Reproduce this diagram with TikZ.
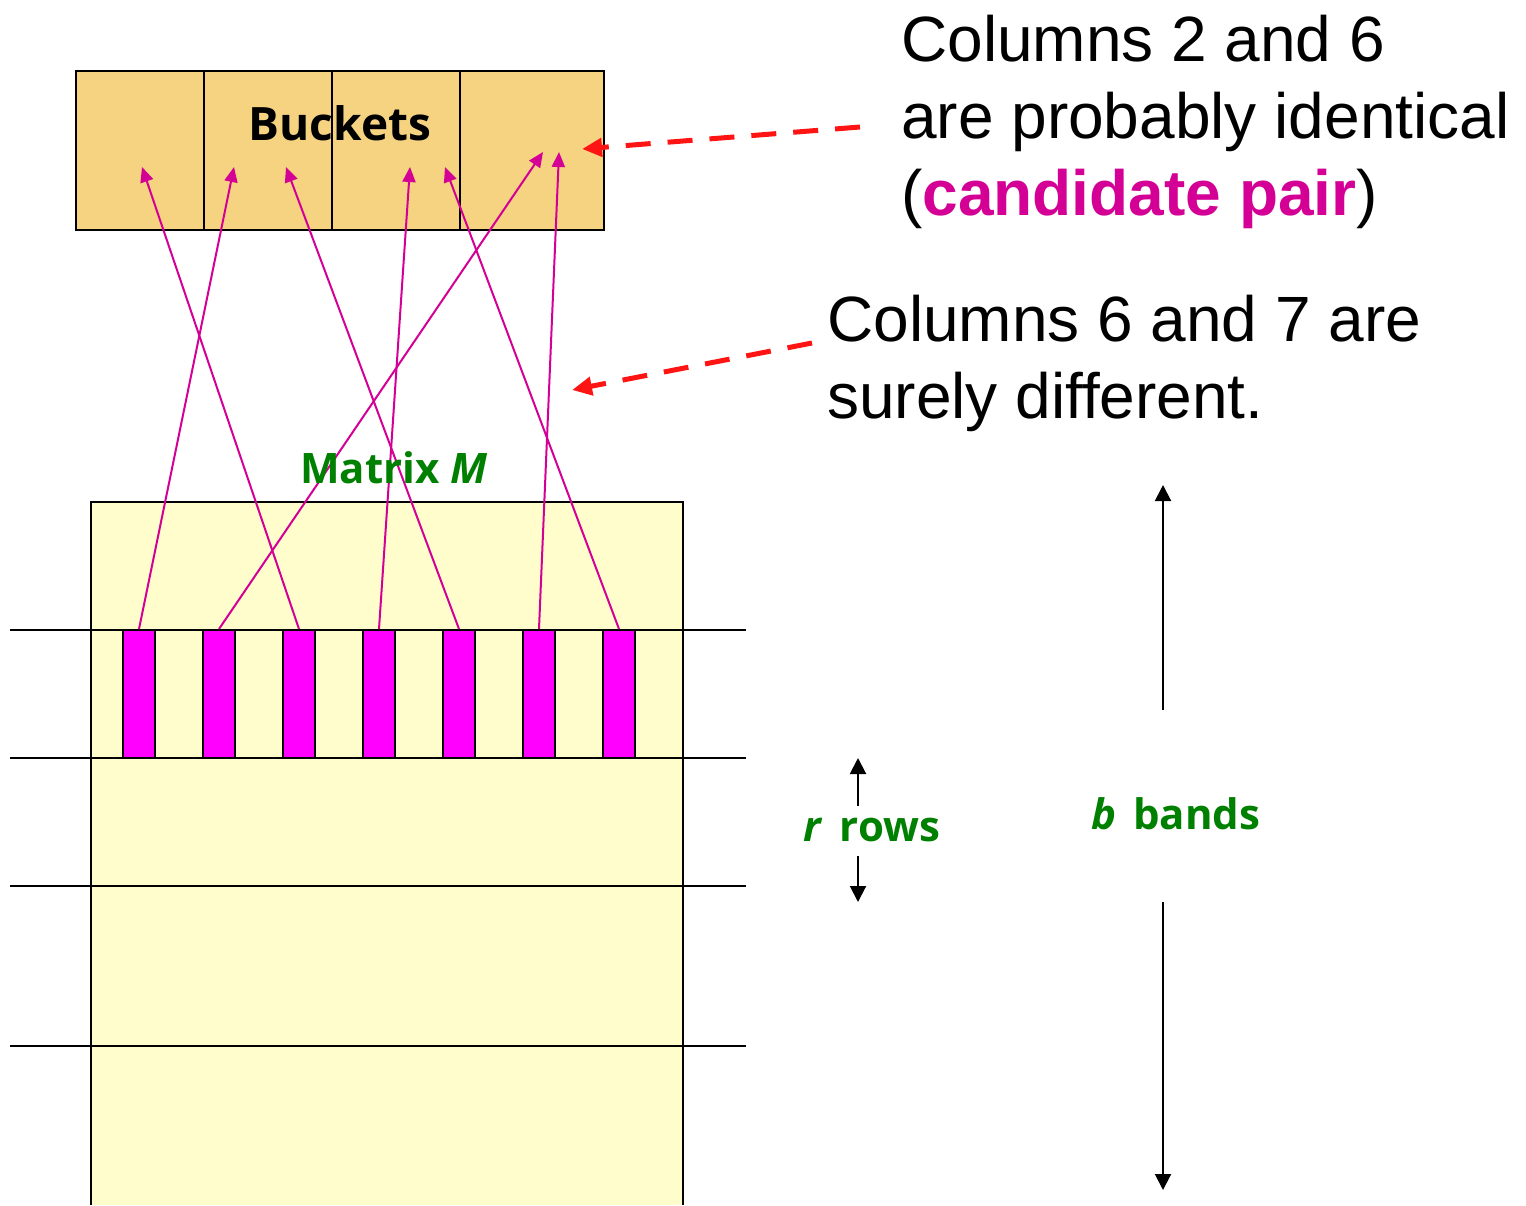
\documentclass[tikz,border=0pt]{standalone}
\usepackage{fontspec}
\setmainfont{Liberation Sans}
\newfontfamily\labelfont{Open Sans}
\usetikzlibrary{arrows.meta}
\definecolor{bucketfill}{RGB}{245,211,128}
\definecolor{matfill}{RGB}{255,253,204}
\definecolor{hashline}{RGB}{212,0,150}
\definecolor{barfill}{RGB}{255,0,255}
\definecolor{notegreen}{RGB}{0,128,0}
\definecolor{notered}{RGB}{255,20,20}
\begin{document}
\begin{tikzpicture}[x=1pt,y=-1pt,
  bucket/.style={draw=black,fill=bucketfill,line width=2pt,minimum height=159pt,inner sep=0pt,anchor=north west},
  bandline/.style={line width=1.5pt},
  bar/.style={draw=black,fill=barfill,line width=2pt,minimum width=32pt,minimum height=128pt,inner sep=0pt},
  hash/.style={draw=hashline,line width=2pt,-{Triangle[length=15pt,width=13pt]}},
  notearrow/.style={draw=notered,line width=5pt,dash pattern=on 25pt off 17pt,-{Triangle[length=20pt,width=18pt]}},
  dimarrow/.style={draw=black,line width=2pt,-{Triangle[length=16pt,width=16pt]}},
  bigtext/.style={font=\fontsize{64}{77}\selectfont,align=left,inner sep=0pt,anchor=north west},
  greenlbl/.style={text=notegreen,font=\labelfont\bfseries\fontsize{42}{50}\selectfont,inner sep=0pt}]
\useasboundingbox (0,0) rectangle (1526,1205);

% matrix M (runs off the bottom edge)
\fill[matfill] (91,502) rectangle (683,1205);
\draw[line width=2pt] (91,1205) -- (91,502) -- (683,502) -- (683,1205);

% band boundaries
\foreach \y in {630,758,886,1046}
  \draw[bandline] (10,\y) -- (746,\y);

% one band of seven columns
\foreach \i in {1,...,7}
  \node[bar] (c\i) at ({139+80*(\i-1)},694) {};

% hash table buckets
\node[bucket,minimum width=128pt] (b1) at (75,70) {};
\node[bucket,minimum width=128pt] (b2) at (203,70) {};
\node[bucket,minimum width=128pt] (b3) at (331,70) {};
\node[bucket,minimum width=144pt] (b4) at (459,70) {};
\node[font=\labelfont\bfseries\fontsize{46}{54}\selectfont,inner sep=0pt] (blbl) at (340,123) {Buckets};

% where each column hashes
\coordinate (t1) at (234,167);
\coordinate (t2) at (543,152);
\coordinate (t3) at (142,167);
\coordinate (t4) at (410,167);
\coordinate (t5) at (286,167);
\coordinate (t6) at (559,152);
\coordinate (t7) at (445,167);
\foreach \i in {1,...,7}
  \draw[hash] (c\i.north) -- (t\i);

\node[greenlbl] (mlbl) at (394,468) {Matrix \textit{M}};

% annotations
\node[bigtext] (note1) at (901,15) {Columns 2 and 6\\are probably identical\\(\textcolor{hashline}{\textbf{candidate pair}})};
\node[bigtext] (note2) at (827,295) {Columns 6 and 7 are\\surely different.};
\coordinate (n1s) at (860,127);
\coordinate (n1e) at (582,149);
\coordinate (n2s) at (812,343);
\coordinate (n2e) at (572,390);
\draw[notearrow] (n1s) -- (n1e);
\draw[notearrow] (n2s) -- (n2e);

% r rows
\node[greenlbl] (rlbl) at (872,830) {\textit{r}\hspace{0.4em}rows};
\coordinate (r1s) at (858,806);
\coordinate (r1e) at (858,758);
\coordinate (r2s) at (858,856);
\coordinate (r2e) at (858,902);
\draw[dimarrow] (r1s) -- (r1e);
\draw[dimarrow] (r2s) -- (r2e);

% b bands
\node[greenlbl] (blbl2) at (1176,814) {\textit{b}\hspace{0.4em}bands};
\coordinate (q1s) at (1163,710);
\coordinate (q1e) at (1163,485);
\coordinate (q2s) at (1163,902);
\coordinate (q2e) at (1163,1190);
\draw[dimarrow] (q1s) -- (q1e);
\draw[dimarrow] (q2s) -- (q2e);
\end{tikzpicture}
\end{document}
